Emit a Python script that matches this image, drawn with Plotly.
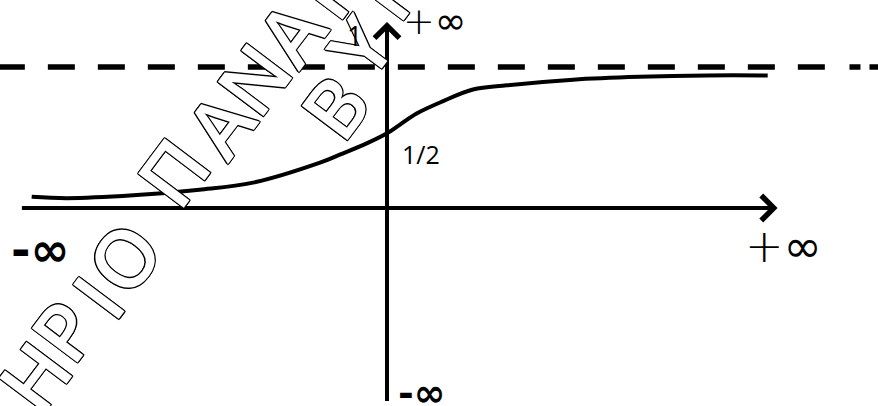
import plotly.graph_objects as go

PX = 141  # pixels per unit, same on both axes
ORIGIN = (387, 208)  # where the two axes cross, in pixels
W, H = 878, 406

# sigmoid-like curve
CURVE_X = [-2.52, -2.27, -1.80, -1.33, -0.95, -0.48, -0.33, -0.14, 0.0, 0.09, 0.21,
           0.38, 0.61, 0.85, 1.32, 1.79, 2.27, 2.70]
CURVE_Y = [0.08, 0.07, 0.09, 0.13, 0.18, 0.32, 0.38, 0.46, 0.53, 0.59, 0.67,
           0.75, 0.84, 0.87, 0.91, 0.93, 0.94, 0.94]

ASYMPTOTE_Y = 1.0
ASYMPTOTE_X = [-2.76, 3.13]
ASYMPTOTE_TAIL_X = [3.28, 3.49]

X_AXIS = [-2.60, 2.77]
Y_AXIS = [-1.38, 1.32]

WATERMARK = [
    ("Τ", -3, 418), ("Η", 33, 375), ("Ρ", 62, 330), ("Ι", 96, 296), ("Ο", 122, 257),
    ("Π", 172, 172), ("Α", 218, 124), ("Ν", 252, 78), ("Α", 289, 32), ("Γ", 326, -10),
    ("Β", 333, 106), ("Υ", 360, 46), ("Ρ", 388, -12),
]

OUTLINE = ", ".join(f"{dx}px {dy}px 0 #000" for dx in (-1, 0, 1) for dy in (-1, 0, 1) if dx or dy)

fig = go.Figure()

fig.add_trace(go.Scatter(
    x=ASYMPTOTE_X, y=[ASYMPTOTE_Y] * 2, mode="lines",
    line=dict(color="black", width=5.5, dash="27px,23px"), hoverinfo="skip",
))
fig.add_trace(go.Scatter(
    x=ASYMPTOTE_TAIL_X, y=[ASYMPTOTE_Y] * 2, mode="lines",
    line=dict(color="black", width=5.5, dash="11px,9px"), hoverinfo="skip",
))
fig.add_trace(go.Scatter(
    x=CURVE_X, y=CURVE_Y, mode="lines",
    line=dict(color="black", width=4, shape="spline", smoothing=1.0), hoverinfo="skip",
))

# axes with open arrow heads
for tip, tail in [((X_AXIS[1], 0), (X_AXIS[0], 0)), ((0, Y_AXIS[1]), (0, Y_AXIS[0]))]:
    fig.add_annotation(
        x=tip[0], y=tip[1], ax=tail[0], ay=tail[1], xref="x", yref="y", axref="x", ayref="y",
        text="", showarrow=True, arrowhead=4, arrowsize=1.2, arrowwidth=4, arrowcolor="black",
        standoff=0, startstandoff=0,
    )

# outlined watermark letters, over the lines but under the labels
for ch, px, py in WATERMARK:
    fig.add_annotation(
        x=px / W, y=1 - py / H, xref="paper", yref="paper", text=ch, showarrow=False,
        xanchor="center", yanchor="middle", textangle=-53,
        font=dict(family="Open Sans", size=80, color="white", weight=600, shadow=OUTLINE),
    )


def label(text, x, y, size, weight=400, family="DejaVu Sans"):
    fig.add_annotation(
        x=x, y=y, xref="x", yref="y", text=text, showarrow=False,
        xanchor="center", yanchor="middle",
        font=dict(family=family, size=size, color="black", weight=weight),
    )


label("1", -0.234, 1.22, 27, family="Open Sans")
label("1/2", 0.241, 0.383, 25, family="Open Sans")
label("<span style='font-weight:300'>+</span>∞", 0.34, 1.326, 38)
label("-∞", 0.248, -1.312, 38, weight=700)
label("-∞", -2.455, -0.291, 47, weight=700)
label("<span style='font-weight:300'>+</span>∞", 2.81, -0.27, 46)

fig.update_xaxes(visible=False, range=[-ORIGIN[0] / PX, (W - ORIGIN[0]) / PX])
fig.update_yaxes(visible=False, range=[(ORIGIN[1] - H) / PX, ORIGIN[1] / PX])
fig.update_layout(
    width=W, height=H, margin=dict(l=0, r=0, t=0, b=0),
    paper_bgcolor="white", plot_bgcolor="white", showlegend=False,
)

fig.write_html(
    "out.html",
    config={"displayModeBar": False},
    post_script="document.body.style.margin='0';",
)
